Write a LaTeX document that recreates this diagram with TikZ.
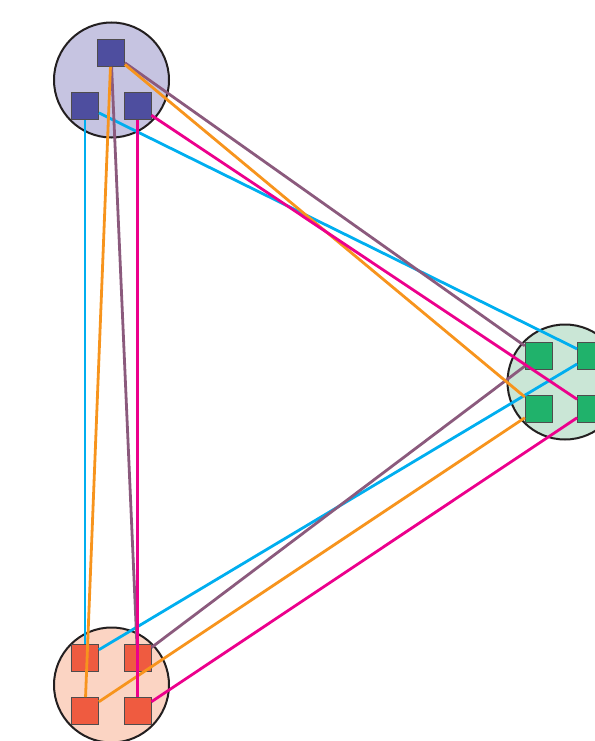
\documentclass[tikz,border=0pt]{standalone}
\definecolor{topfill}{HTML}{C6C4E1}
\definecolor{topsq}{HTML}{4E4E9F}
\definecolor{grnfill}{HTML}{CAE6D6}
\definecolor{grnsq}{HTML}{20B26B}
\definecolor{redfill}{HTML}{FBD4C3}
\definecolor{redsq}{HTML}{EF5B40}
\definecolor{lcyan}{HTML}{00AEEF}
\definecolor{lmag}{HTML}{EC008C}
\definecolor{lorange}{HTML}{F7941D}
\definecolor{lmauve}{HTML}{8B5A7D}
\definecolor{edge}{HTML}{231F20}
\begin{document}
\begin{tikzpicture}[x=1pt,y=-1pt,
  cluster/.style={circle,draw=edge,line width=2pt,minimum size=115pt,inner sep=0pt},
  sq/.style={rectangle,draw=edge!80,line width=0.8pt,minimum size=27pt,inner sep=0pt},
  link/.style={line width=2.8pt}]
\useasboundingbox (0,0) rectangle (594,741);
% clusters
\node[cluster,fill=topfill] (ct) at (111.5,80) {};
\node[cluster,fill=grnfill] (cg) at (565,382) {};
\node[cluster,fill=redfill] (cr) at (111.5,685) {};
% squares
\node[sq,fill=topsq] (t1) at (111,53) {};
\node[sq,fill=topsq] (t2) at (85,106) {};
\node[sq,fill=topsq] (t3) at (137.5,106) {};
\node[sq,fill=grnsq] (g1) at (538.7,355.7) {};
\node[sq,fill=grnsq] (g2) at (591,355.7) {};
\node[sq,fill=grnsq] (g3) at (538.7,408.5) {};
\node[sq,fill=grnsq] (g4) at (591,408.5) {};
\node[sq,fill=redsq] (r1) at (85,658) {};
\node[sq,fill=redsq] (r2) at (137.5,658) {};
\node[sq,fill=redsq] (r3) at (85,711) {};
\node[sq,fill=redsq] (r4) at (137.5,711) {};
% links
\draw[link,lcyan] (t2) -- (r1);
\draw[link,lcyan] (t2) -- (g2);
\draw[link,lcyan] (g2) -- (r1);
\draw[link,lmauve] (t1) -- (r2);
\draw[link,lmauve] (t1) -- (g1);
\draw[link,lmauve] (g1) -- (r2);
\draw[link,lorange] (t1) -- (r3);
\draw[link,lorange] (t1) -- (g3);
\draw[link,lorange] (g3) -- (r3);
\draw[link,lmag] (t3) -- (r4);
\draw[link,lmag] (t3) -- (g4);
\draw[link,lmag] (g4) -- (r4);
\end{tikzpicture}
\end{document}
